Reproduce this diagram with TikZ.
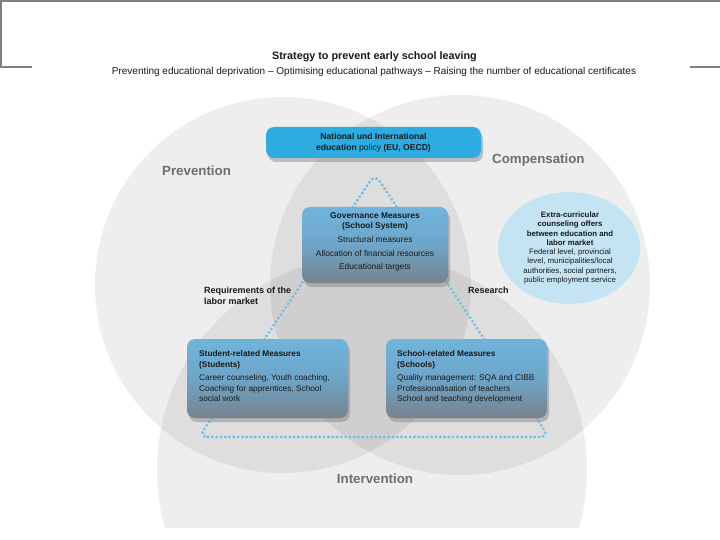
\documentclass[tikz,border=0pt]{standalone}
\usepackage{fontspec}
\setmainfont{Liberation Sans}
\usetikzlibrary{shadows,shapes.geometric}
\definecolor{framegray}{RGB}{128,128,128}
\definecolor{natblue}{RGB}{45,172,226}
\definecolor{boxtop}{RGB}{112,180,222}
\definecolor{boxmid}{RGB}{110,165,200}
\definecolor{boxbot}{RGB}{120,130,140}
\definecolor{dotblue}{RGB}{118,190,222}
\definecolor{ellblue}{RGB}{196,228,244}
\definecolor{labgray}{RGB}{110,110,110}
\definecolor{txtdark}{RGB}{25,25,25}
\begin{document}
\begin{tikzpicture}[x=1pt,y=-1pt,
  circ/.style={fill=black, fill opacity=0.065, draw=none},
  frameline/.style={draw=framegray, line width=1.2pt},
  dotline/.style={draw=dotblue, line width=3.2pt, line cap=round, dash pattern=on 0pt off 4.3pt},
  measbox/.style={rounded corners=8pt, top color=boxtop, bottom color=boxbot, middle color=boxmid,
     drop shadow={opacity=0.45, shadow xshift=2pt, shadow yshift=-4pt}, inner sep=0pt},
  natbox/.style={rounded corners=8pt, fill=natblue, inner sep=0pt,
     drop shadow={opacity=0.45, shadow xshift=2pt, shadow yshift=-4pt}},
  ellnode/.style={ellipse, fill=ellblue, inner sep=0pt},
  boxtext/.style={inner sep=0pt, text=txtdark},
  bigsect/.style={inner sep=0pt, text=labgray, font=\fontsize{13.3}{15}\selectfont\bfseries},
  smalllab/.style={inner sep=0pt, text=txtdark, font=\fontsize{9}{10.5}\selectfont\bfseries, align=left}
]
\useasboundingbox (0,0) rectangle (720,540);
\fill[white] (0,0) rectangle (720,540);

% frame lines
\draw[frameline] (0,1) -- (720,1);
\draw[frameline] (1,0) -- (1,67) -- (32,67);
\draw[frameline] (690,67) -- (720,67);

% circles
\begin{scope}
  \clip (0,80) rectangle (720,527);
  \fill[circ] (283,285) circle (188);
  \fill[circ] (460,285) circle (190);
  \fill[circ] (372,470) circle (215);
\end{scope}

% title
\node[inner sep=0pt, text=txtdark, font=\fontsize{10.8}{12}\selectfont\bfseries] (title) at (374.5,57) {Strategy to prevent early school leaving};
\node[inner sep=0pt, text=txtdark, font=\fontsize{10}{12}\selectfont] (subtitle) at (374,72) {Preventing educational deprivation -- Optimising educational pathways -- Raising the number of educational certificates};

% dotted triangle
\coordinate (apex) at (375,174);
\coordinate (bl) at (199,437);
\coordinate (br) at (549,437);
\draw[dotline, rounded corners=9pt] (bl) -- (br) -- (apex) -- cycle;

% boxes
\node[natbox, minimum width=215pt, minimum height=31pt, align=center, text=txtdark,
  font=\fontsize{8.6}{11}\selectfont] (natl) at (373.5,142.5)
  {\textbf{National und International}\\\textbf{education} policy \textbf{(EU, OECD)}};

\node[measbox, minimum width=146pt, minimum height=76pt] (gov) at (375,245) {};
\node[boxtext, anchor=north, align=center, font=\fontsize{8.4}{10}\selectfont] (govtxt) at (375,212.5)
  {\textbf{Governance Measures}\\\textbf{(School System)}\\[4pt]
   Structural measures\\[3.5pt] Allocation of financial resources\\[3.5pt] Educational targets};

\node[measbox, minimum width=161pt, minimum height=79pt] (student) at (267.5,378.5) {};
\node[boxtext, anchor=north west, align=left, font=\fontsize{8.3}{10.5}\selectfont] (studenttxt) at (199,350.5)
  {\textbf{Student-related Measures}\\\textbf{(Students)}\\[3pt]
   Career counseling, Youth coaching,\\ Coaching for apprentices, School\\ social work};

\node[measbox, minimum width=161pt, minimum height=79pt] (school) at (466.5,378.5) {};
\node[boxtext, anchor=north west, align=left, font=\fontsize{8.3}{10.5}\selectfont] (schooltxt) at (397,350.5)
  {\textbf{School-related Measures}\\\textbf{(Schools)}\\[3pt]
   Quality management: SQA and CIBB\\ Professionalisation of teachers\\ School and teaching development};

% ellipse
\node[ellnode, minimum width=142pt, minimum height=112pt] (extra) at (569,248) {};
\node[boxtext, align=center, font=\fontsize{7.8}{9.3}\selectfont] (extratxt) at (570,248)
  {\textbf{Extra-curricular}\\\textbf{counseling offers}\\\textbf{between education and}\\\textbf{labor market}\\
   Federal level, provincial\\ level, municipalities/local\\ authorities, social partners,\\ public employment service};

% section labels
\node[bigsect, anchor=west] (prev) at (162,171) {Prevention};
\node[bigsect, anchor=west] (comp) at (492,160) {Compensation};
\node[bigsect] (interv) at (375,479) {Intervention};

% small labels
\node[smalllab, anchor=north west] (req) at (204,287) {Requirements of the\\ labor market};
\node[smalllab, anchor=north west] (research) at (468,287) {Research};
\end{tikzpicture}
\end{document}
